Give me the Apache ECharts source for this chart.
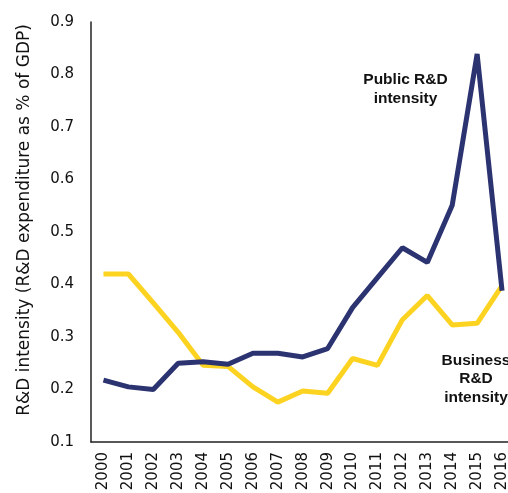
<!DOCTYPE html>
<html>
<head>
<meta charset="utf-8">
<script src="https://cdn.jsdelivr.net/npm/echarts@6/dist/echarts.min.js"></script>
<style>html,body{margin:0;padding:0;background:#fff;}#c{width:508px;height:493px;}</style>
</head>
<body>
<div id="c"></div>
<script>
const years = ['2000','2001','2002','2003','2004','2005','2006','2007','2008','2009','2010','2011','2012','2013','2014','2015','2016'];
const publicRD = [0.218,0.205,0.200,0.250,0.253,0.248,0.269,0.269,0.262,0.278,0.356,0.413,0.470,0.442,0.551,0.839,0.388];
const businessRD = [0.420,0.420,0.365,0.309,0.246,0.244,0.205,0.176,0.197,0.193,0.259,0.246,0.333,0.379,0.323,0.326,0.398];
const yTicks = {min:0.1, max:0.9, interval:0.1};
const yTitle = 'R&D intensity (R&D expenditure as % of GDP)';

const chart = echarts.init(document.getElementById('c'));
const axFont = 'DejaVu Sans, sans-serif';
const annFont = 'Liberation Sans, Arial, sans-serif';
chart.setOption({
  animation:false,
  backgroundColor:'#fff',
  grid:{left:91, top:22, bottom:51, width:423.5, outerBoundsMode:'none', containLabel:false},
  xAxis:{
    type:'category', data:years, boundaryGap:true,
    axisLine:{lineStyle:{color:'#222', width:1.5}},
    axisTick:{show:false},
    axisLabel:{rotate:90, color:'#111', fontSize:15, fontFamily:axFont, margin:10, interval:0}
  },
  yAxis:{
    type:'value', min:yTicks.min, max:yTicks.max, interval:yTicks.interval,
    axisLine:{show:true, lineStyle:{color:'#222', width:1.5}},
    axisTick:{show:false},
    splitLine:{show:false},
    axisLabel:{color:'#111', fontSize:15, fontFamily:axFont, margin:17, formatter:v=>v.toFixed(1)}
  },
  series:[
    {name:'Public R&D intensity', type:'line', data:publicRD, symbol:'none',
     lineStyle:{color:'#2C3371', width:5}, z:3},
    {name:'Business R&D intensity', type:'line', data:businessRD, symbol:'none',
     lineStyle:{color:'#FDD321', width:5}, z:2}
  ],
  graphic:[
    {type:'text', x:25, y:220, rotation:Math.PI/2, style:{text:yTitle, fontSize:17, fontFamily:axFont, fill:'#111', align:'center', verticalAlign:'middle'}},
    {type:'text', x:405.5, y:89.5, style:{text:'Public R&D\nintensity', fontSize:15.5, fontWeight:'bold', fontFamily:annFont, fill:'#111', align:'center', verticalAlign:'middle', lineHeight:19}},
    {type:'text', x:476, y:379, style:{text:'Business\nR&D\nintensity', fontSize:15.5, fontWeight:'bold', fontFamily:annFont, fill:'#111', align:'center', verticalAlign:'middle', lineHeight:18.5}}
  ]
});
</script>
</body>
</html>
